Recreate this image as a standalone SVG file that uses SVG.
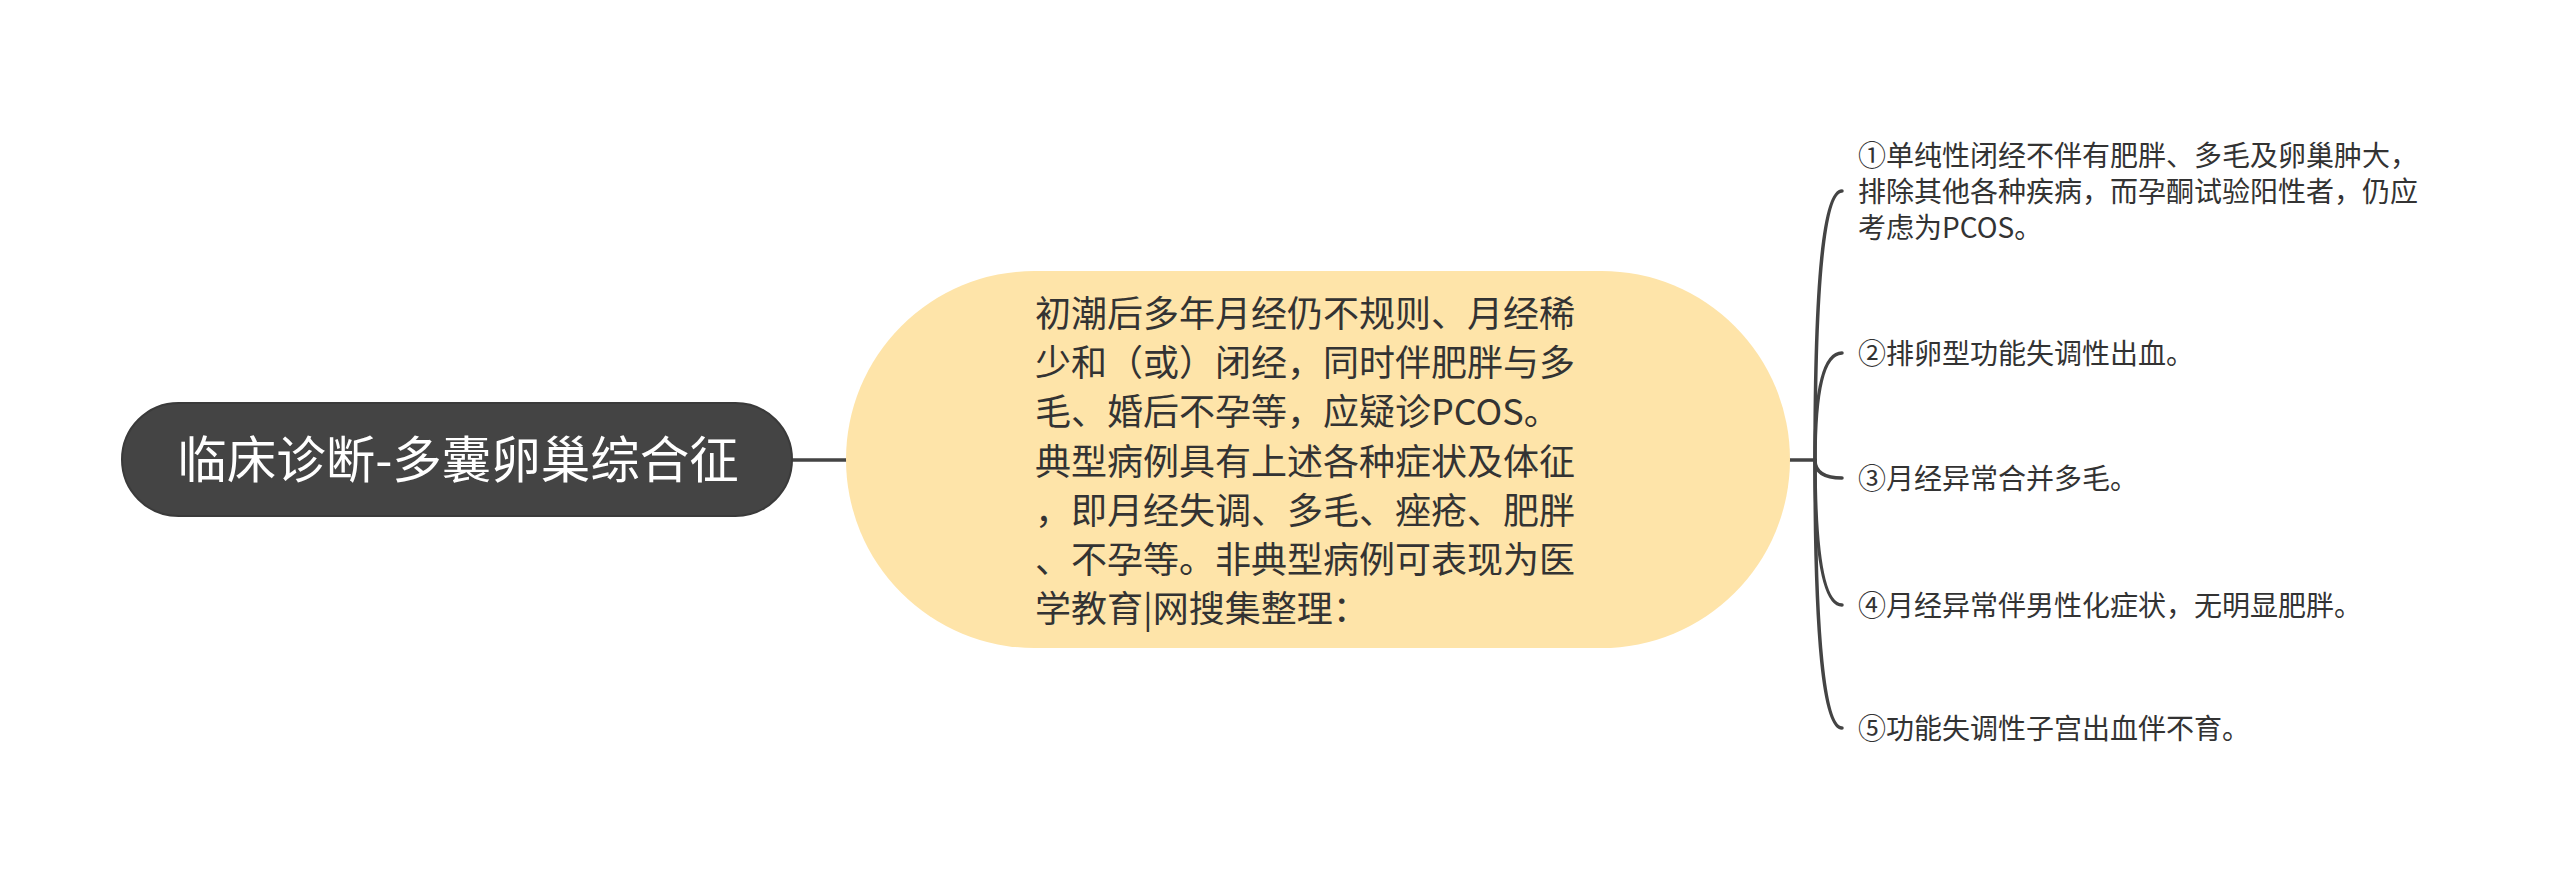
<svg xmlns="http://www.w3.org/2000/svg" width="2560" height="884" viewBox="0 0 2560 884">
<style>
.conn{fill:none;stroke:#444444;stroke-width:3.5;stroke-linecap:round}
.t{font-family:"Noto Sans CJK SC","Noto Sans",sans-serif;fill:#333333}
.root{font-size:49.5px;fill:#ffffff;text-anchor:middle}
.mid{font-size:36px}
.leaf{font-size:28px}
</style>
<rect width="2560" height="884" fill="#ffffff"/>
<g id="connectors">
<path class="conn" d="M792 460 H846"/>
<path class="conn" d="M1790 460 H1815"/>
<path class="conn" d="M1815 460 Q1815 191 1842 191"/>
<path class="conn" d="M1815 460 Q1815 353 1842 353"/>
<path class="conn" d="M1815 460 Q1815 478 1842 478"/>
<path class="conn" d="M1815 460 Q1815 605 1842 605"/>
<path class="conn" d="M1815 460 Q1815 728 1842 728"/>
</g>
<g id="root">
<rect x="122" y="403" width="670" height="113" rx="56.5" fill="#444444" stroke="#3a3a3a" stroke-width="2"/>
<text class="t root" x="458" y="478">临床诊断-多囊卵巢综合征</text>
</g>
<g id="center">
<rect x="846" y="271" width="944" height="377" rx="188.5" fill="#FEE4A9"/>
<text class="t mid" x="1035">
<tspan x="1035" y="327">初潮后多年月经仍不规则、月经稀</tspan>
<tspan x="1035" y="376">少和（或）闭经，同时伴肥胖与多</tspan>
<tspan x="1035" y="425">毛、婚后不孕等，应疑诊PCOS。</tspan>
<tspan x="1035" y="475">典型病例具有上述各种症状及体征</tspan>
<tspan x="1035" y="524">，即月经失调、多毛、痤疮、肥胖</tspan>
<tspan x="1035" y="573">、不孕等。非典型病例可表现为医</tspan>
<tspan x="1035" y="622">学教育|网搜集整理：</tspan>
</text>
</g>
<g id="leaf1">
<text class="t leaf">
<tspan x="1858" y="166">①单纯性闭经不伴有肥胖、多毛及卵巢肿大，</tspan>
<tspan x="1858" y="202">排除其他各种疾病，而孕酮试验阳性者，仍应</tspan>
<tspan x="1858" y="238">考虑为PCOS。</tspan>
</text>
</g>
<g id="leaf2"><text class="t leaf" x="1858" y="364">②排卵型功能失调性出血。</text></g>
<g id="leaf3"><text class="t leaf" x="1858" y="489">③月经异常合并多毛。</text></g>
<g id="leaf4"><text class="t leaf" x="1858" y="616">④月经异常伴男性化症状，无明显肥胖。</text></g>
<g id="leaf5"><text class="t leaf" x="1858" y="739">⑤功能失调性子宫出血伴不育。</text></g>
</svg>
